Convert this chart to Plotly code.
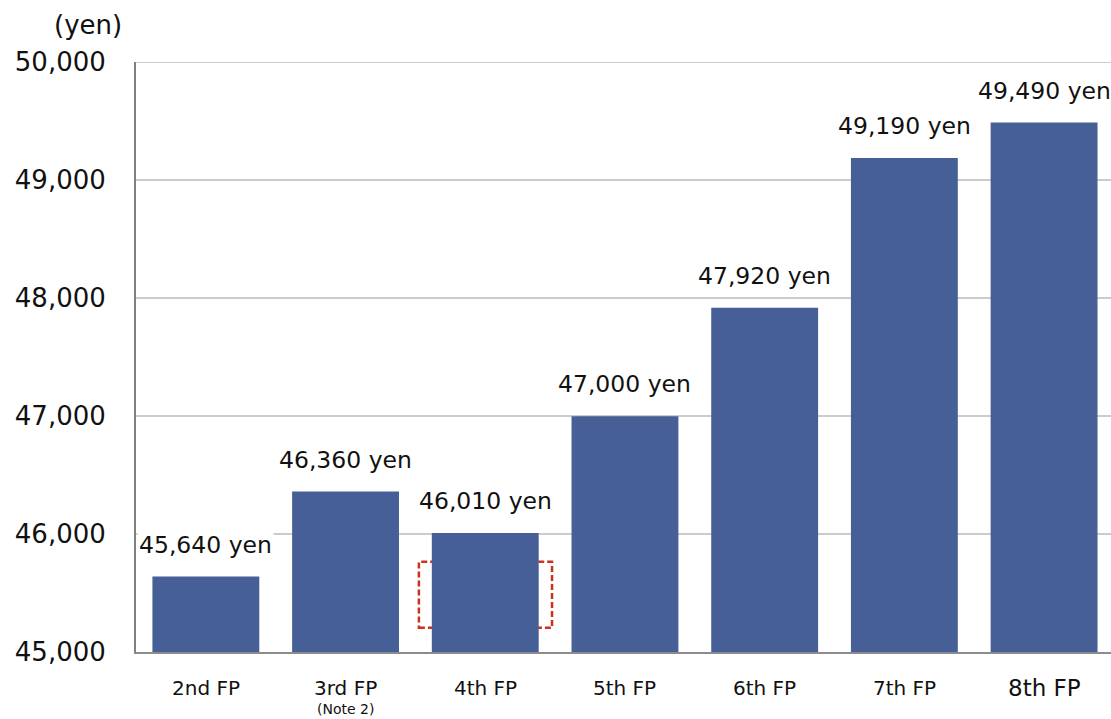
import plotly.graph_objects as go

categories = ["2nd FP", "3rd FP", "4th FP", "5th FP", "6th FP", "7th FP", "8th FP"]
values = [45640, 46360, 46010, 47000, 47920, 49190, 49490]
value_labels = ["45,640 yen", "46,360 yen", "46,010 yen", "47,000 yen",
                "47,920 yen", "49,190 yen", "49,490 yen"]
x_label_sizes = [20, 20, 20, 20, 20, 20, 23]
note_labels = {"3rd FP": "(Note 2)"}
y_ticks = [45000, 46000, 47000, 48000, 49000, 50000]
y_tick_text = ["45,000", "46,000", "47,000", "48,000", "49,000", "50,000"]
y_unit = "(yen)"

FONT = "Verdana, DejaVu Sans, sans-serif"
BAR_COLOR = "#475f97"
GRID_COLOR = "#cccccc"

fig = go.Figure()
fig.add_trace(go.Bar(
    x=list(range(len(categories))), y=values,
    marker=dict(color=BAR_COLOR, line=dict(width=0)),
    hoverinfo="skip",
))

annotations = []
for i, (v, t) in enumerate(zip(values, value_labels)):
    annotations.append(dict(
        x=i, y=v, xref="x", yref="y", text=t, showarrow=False,
        yanchor="middle", yshift=32, bgcolor="white",
        font=dict(family=FONT, size=23.5, color="#111111"),
    ))
for i, (c, s) in enumerate(zip(categories, x_label_sizes)):
    annotations.append(dict(
        x=i, y=0, xref="x", yref="paper", text=c, showarrow=False,
        yanchor="middle", yshift=-36,
        font=dict(family=FONT, size=s, color="#111111"),
    ))
    if c in note_labels:
        annotations.append(dict(
            x=i, y=0, xref="x", yref="paper", text=note_labels[c], showarrow=False,
            yanchor="middle", yshift=-57,
            font=dict(family=FONT, size=14, color="#111111"),
        ))
annotations.append(dict(
    x=0, y=1, xref="paper", yref="paper", text=y_unit, showarrow=False,
    xanchor="center", yanchor="middle", xshift=-48, yshift=37,
    font=dict(family=FONT, size=26, color="#111111"),
))

# top gridline (at the maximum tick value)
fig.add_shape(
    type="line", xref="paper", yref="y", x0=0, x1=1,
    y0=y_ticks[-1], y1=y_ticks[-1],
    line=dict(color=GRID_COLOR, width=1.5), layer="below",
)

highlight_idx = 2
fig.add_shape(
    type="rect", xref="x", yref="y",
    x0=highlight_idx - 0.475, x1=highlight_idx + 0.478,
    y0=45205, y1=45765,
    line=dict(color="#c8321e", width=2.5, dash="6px,3px"),
    fillcolor="rgba(0,0,0,0)", layer="below",
)

fig.update_layout(
    width=1111, height=719,
    margin=dict(l=136, r=0, t=62, b=67),
    paper_bgcolor="white", plot_bgcolor="white",
    bargap=0.235, showlegend=False,
    annotations=annotations,
    font=dict(family=FONT, color="#111111"),
)
fig.update_xaxes(
    range=[-0.5, 6.479], showticklabels=False, showgrid=False,
    showline=True, linecolor="#8c8c8c", linewidth=2, zeroline=False,
    ticks="",
)
fig.update_yaxes(
    range=[45000, 50003], tickvals=y_ticks, ticktext=y_tick_text,
    showgrid=True, gridcolor=GRID_COLOR, gridwidth=1.5,
    showline=True, linecolor="#808080", linewidth=2, zeroline=False,
    ticks="", ticklabelstandoff=23,
    tickfont=dict(family=FONT, size=26, color="#111111"),
)

fig.write_html("out.html")
